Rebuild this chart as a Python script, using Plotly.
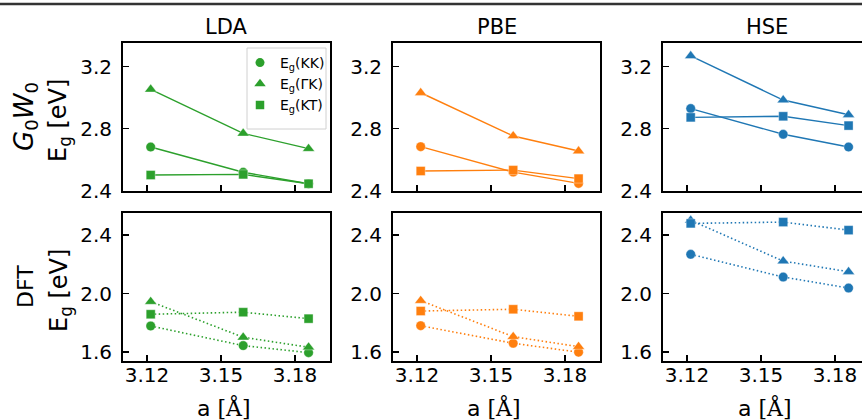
import plotly.graph_objects as go

# ---------------- data ----------------
a_vals = [3.1215, 3.159, 3.1855]          # lattice constant a [Å]
methods = ["LDA", "PBE", "HSE"]
colors = ["#2ca02c", "#ff7f0e", "#1f77b4"]

# G0W0 band gaps [eV]
gw_kk = {"LDA": [2.682, 2.519, 2.445], "PBE": [2.684, 2.520, 2.447], "HSE": [2.930, 2.764, 2.682]}
gw_gk = {"LDA": [3.054, 2.770, 2.671], "PBE": [3.032, 2.753, 2.656], "HSE": [3.270, 2.985, 2.890]}
gw_kt = {"LDA": [2.501, 2.505, 2.445], "PBE": [2.527, 2.533, 2.478], "HSE": [2.873, 2.880, 2.820]}
# DFT band gaps [eV]
dft_kk = {"LDA": [1.779, 1.645, 1.597], "PBE": [1.781, 1.661, 1.600], "HSE": [2.268, 2.113, 2.038]}
dft_gk = {"LDA": [1.945, 1.702, 1.634], "PBE": [1.952, 1.706, 1.638], "HSE": [2.500, 2.222, 2.149]}
dft_kt = {"LDA": [1.859, 1.873, 1.829], "PBE": [1.881, 1.893, 1.845], "HSE": [2.479, 2.488, 2.433]}

series_names = ["E<sub>g</sub>(KK)", "E<sub>g</sub>(ΓK)", "E<sub>g</sub>(KT)"]
symbols = ["circle", "triangle-up", "square"]
sizes = [9.5, 10.5, 9]
x_ticks = [3.12, 3.15, 3.18]
y_ticks_gw = [2.4, 2.8, 3.2]
y_ticks_dft = [1.6, 2.0, 2.4]

# ---------------- layout geometry ----------------
W, H = 862, 420
FONT = "DejaVu Sans"
panel_left = [123, 393, 663]
panel_w = 207
row_top = [43, 213]
row_h = 148
px_per_unit_x = 74 / 0.03
x_lo = 3.12 - 24 / px_per_unit_x

fig = go.Figure()

def xdom(i):
    l = panel_left[i]
    r = min(l + panel_w, W)
    return [l / W, r / W], r - l

def ydom(r):
    t = row_top[r]
    return [1 - (t + row_h) / H, 1 - t / H]

layout = {}
k = 0
for r in range(2):
    for i, m in enumerate(methods):
        k += 1
        xs = "" if k == 1 else str(k)
        (xd, wpx) = xdom(i)
        x_hi = x_lo + wpx / px_per_unit_x
        layout["xaxis" + xs] = dict(
            domain=xd, range=[x_lo, x_hi], anchor="y" + xs, automargin=False,
            tickvals=x_ticks, ticktext=["3.12", "3.15", "3.18"],
            showticklabels=(r == 1), ticks="inside", ticklen=6, tickwidth=1.5,
            tickcolor="black", showline=True, linecolor="black", linewidth=2,
            mirror=True, showgrid=False, zeroline=False, ticklabelstandoff=-5,
            tickfont=dict(family=FONT, size=20, color="black"),
        )
        yr = [2.398, 3.353] if r == 0 else [1.54, 2.55]
        yt = y_ticks_gw if r == 0 else y_ticks_dft
        layout["yaxis" + xs] = dict(
            domain=ydom(r), range=yr, anchor="x" + xs, automargin=False,
            tickvals=yt, ticktext=["%.1f" % v for v in yt],
            ticks="inside", ticklen=6, tickwidth=1.5, tickcolor="black",
            showline=True, linecolor="black", linewidth=2, ticklabelstandoff=5,
            mirror=(i != 2), showgrid=False, zeroline=False,
            tickfont=dict(family=FONT, size=20, color="black"),
        )
        datasets = [gw_kk, gw_gk, gw_kt] if r == 0 else [dft_kk, dft_gk, dft_kt]
        for s, ds in enumerate(datasets):
            fig.add_trace(go.Scatter(
                x=a_vals, y=ds[m], xaxis="x" + xs, yaxis="y" + xs,
                mode="lines+markers", showlegend=False,
                line=dict(color=colors[i], width=1.4 if r == 0 else 1.6,
                          dash="solid" if r == 0 else "1.5px,2.5px"),
                marker=dict(symbol=symbols[s], size=sizes[s], color=colors[i],
                            line=dict(width=1, color="rgba(255,255,255,0.35)")),
                cliponaxis=False,
            ))

# legend-only entries (markers only) for the LDA G0W0 panel
for s in range(3):
    fig.add_trace(go.Scatter(
        x=[None], y=[None], xaxis="x", yaxis="y", mode="markers",
        name=series_names[s],
        marker=dict(symbol=symbols[s], size=sizes[s] - 0.5, color=colors[0]),
    ))

annotations = []
# column titles and x-axis labels
xlabel = 'a <span style="font-family:DejaVu Serif">[Å]</span>'
for i, m in enumerate(methods):
    cx = panel_left[i] + panel_w / 2
    annotations.append(dict(text=m, x=cx / W, y=1 - 27 / H, xref="paper", yref="paper",
                            showarrow=False, font=dict(family=FONT, size=21, color="black"),
                            xanchor="center", yanchor="middle"))
    annotations.append(dict(text=xlabel, x=(cx - 2) / W, y=1 - 407 / H, xref="paper", yref="paper",
                            showarrow=False, font=dict(family=FONT, size=22, color="black"),
                            xanchor="center", yanchor="middle"))
# row labels
row_labels = ["<i>G</i><sub>0</sub><i>W</i><sub>0</sub>", "DFT"]
for r in range(2):
    cy = row_top[r] + row_h / 2
    annotations.append(dict(text=row_labels[r], x=25 / W, y=1 - cy / H, xref="paper", yref="paper",
                            showarrow=False, textangle=-90,
                            font=dict(family=FONT, size=26 if r == 0 else 22, color="black"),
                            xanchor="center", yanchor="middle"))
    annotations.append(dict(text="E<sub>g</sub> [eV]", x=60 / W, y=1 - (cy + 4) / H, xref="paper", yref="paper",
                            showarrow=False, textangle=-90,
                            font=dict(family=FONT, size=24, color="black"),
                            xanchor="center", yanchor="middle"))

# legend frame (drawn as a shape; the legend itself is transparent)
legend_box = [247, 48, 326, 129]
shapes = [
    dict(type="line", xref="paper", yref="paper", x0=0, x1=1,
         y0=1 - 4 / H, y1=1 - 4 / H, line=dict(color="#333333", width=2.5)),
    dict(type="rect", xref="paper", yref="paper", layer="above",
         x0=legend_box[0] / W, x1=legend_box[2] / W,
         y0=1 - legend_box[3] / H, y1=1 - legend_box[1] / H,
         line=dict(color="#d0d0d0", width=1), fillcolor="rgba(255,255,255,0.8)"),
]

fig.update_layout(
    template="none",
    width=W, height=H, autosize=False,
    margin=dict(l=0, r=0, t=0, b=0, pad=0),
    paper_bgcolor="white", plot_bgcolor="white",
    font=dict(family=FONT, color="black"),
    annotations=annotations,
    showlegend=True,
    legend=dict(x=240 / W, y=1 - 47 / H, xanchor="left", yanchor="top",
                bgcolor="rgba(0,0,0,0)", borderwidth=0,
                font=dict(family=FONT, size=14, color="black"),
                tracegroupgap=0, itemwidth=30),
    shapes=shapes,
    **layout,
)

fig.write_html("out.html", config={"displayModeBar": False, "staticPlot": True},
               post_script="document.body.style.margin='0';document.body.style.overflow='hidden';")
